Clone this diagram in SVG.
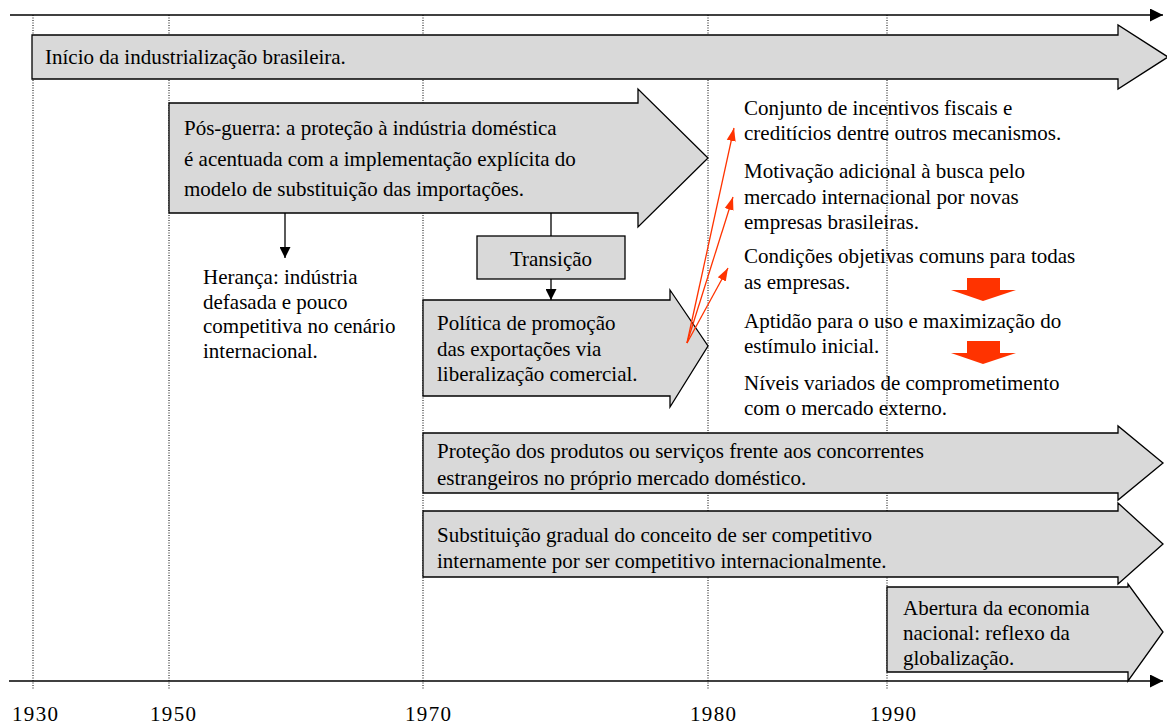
<svg xmlns="http://www.w3.org/2000/svg" width="1167" height="725" viewBox="0 0 1167 725">
<style>
text{font-family:"Liberation Serif","Times New Roman",serif;font-size:21px;fill:#000}
.blk{fill:#d9d9d9;stroke:#000;stroke-width:1.3}
.grid{stroke:#000;stroke-width:1;stroke-dasharray:1,1.5;fill:none}
.axis{stroke:#000;stroke-width:1.5;fill:none}
.con{stroke:#000;stroke-width:1.3;fill:none}
.red{stroke:#ff3300;stroke-width:1.3;fill:none}
.redfill{fill:#ff3300}
</style>
<defs>
<marker id="ah" viewBox="0 0 10 10" refX="10" refY="5" markerWidth="11" markerHeight="11" markerUnits="userSpaceOnUse" orient="auto"><path d="M0,0L10,5L0,10z" fill="#000"/></marker>
<marker id="axh" viewBox="0 0 10 10" refX="10" refY="5" markerWidth="13" markerHeight="13" markerUnits="userSpaceOnUse" orient="auto"><path d="M0,0L10,5L0,10z" fill="#000"/></marker>
<marker id="rh" viewBox="0 0 10 10" refX="10" refY="5" markerWidth="13" markerHeight="13" markerUnits="userSpaceOnUse" orient="auto"><path d="M0,1.5L10,5L0,8.5z" fill="#ff3300"/></marker>
</defs>
<g id="grid">
<line class="grid" x1="33" y1="15" x2="33" y2="690"/>
<line class="grid" x1="169" y1="15" x2="169" y2="690"/>
<line class="grid" x1="423" y1="15" x2="423" y2="690"/>
<line class="grid" x1="708" y1="15" x2="708" y2="690"/>
<line class="grid" x1="887" y1="15" x2="887" y2="690"/>
</g>
<g id="axes">
<line class="axis" x1="10" y1="15" x2="1163" y2="15" marker-end="url(#axh)"/>
<line class="axis" x1="9" y1="681" x2="1163" y2="681" marker-end="url(#axh)"/>
</g>
<g id="years">
<text x="12" y="721" textLength="46">1930</text>
<text x="150" y="721" textLength="46">1950</text>
<text x="405" y="721" textLength="46">1970</text>
<text x="690" y="721" textLength="46">1980</text>
<text x="870" y="721" textLength="46">1990</text>
</g>
<g id="inicio">
<polygon class="blk" points="32,35 1118,35 1118,25 1168,57 1118,89 1118,79 32,79"/>
<text x="45" y="64">Início da industrialização brasileira.</text>
</g>
<g id="posguerra">
<polygon class="blk" points="169,103 638,103 638,89 708,158 638,227 638,213 169,213"/>
<text x="184" y="135">Pós-guerra: a proteção à indústria doméstica</text>
<text x="184" y="166">é acentuada com a implementação explícita do</text>
<text x="184" y="196">modelo de substituição das importações.</text>
</g>
<g id="heranca">
<text x="203" y="284">Herança: indústria</text>
<text x="203" y="309">defasada e pouco</text>
<text x="203" y="333">competitiva no cenário</text>
<text x="203" y="358">internacional.</text>
</g>
<g id="transicao">
<rect class="blk" x="477" y="236" width="148" height="43"/>
<text x="551" y="266" text-anchor="middle">Transição</text>
</g>
<g id="politica">
<polygon class="blk" points="423,300 670,300 670,290 708,346 670,407 670,396 423,396"/>
<text x="437" y="330">Política de promoção</text>
<text x="437" y="356">das exportações via</text>
<text x="437" y="381">liberalização comercial.</text>
</g>
<g id="textos">
<text x="744" y="115">Conjunto de incentivos fiscais e</text>
<text x="744" y="140">creditícios dentre outros mecanismos.</text>
<text x="744" y="178">Motivação adicional à busca pelo</text>
<text x="744" y="204">mercado internacional por novas</text>
<text x="744" y="229">empresas brasileiras.</text>
<text x="744" y="263">Condições objetivas comuns para todas</text>
<text x="744" y="289">as empresas.</text>
<text x="744" y="328">Aptidão para o uso e maximização do</text>
<text x="744" y="353">estímulo inicial.</text>
<text x="744" y="390">Níveis variados de comprometimento</text>
<text x="744" y="415">com o mercado externo.</text>
</g>
<g id="setas-vermelhas">
<polygon class="redfill" points="967,278 1000,278 1000,290 1016,290 983,301 951,290 967,290"/>
<polygon class="redfill" points="967,341 1000,341 1000,353 1016,353 983,364 951,353 967,353"/>
</g>
<g id="protecao">
<polygon class="blk" points="423,433 1118,433 1118,426 1163,463 1118,500 1118,493 423,493"/>
<text x="437" y="458">Proteção dos produtos ou serviços frente aos concorrentes</text>
<text x="437" y="485">estrangeiros no próprio mercado doméstico.</text>
</g>
<g id="substituicao">
<polygon class="blk" points="423,511 1118,511 1118,503 1163,544 1118,584 1118,577 423,577"/>
<text x="437" y="542">Substituição gradual do conceito de ser competitivo</text>
<text x="437" y="568">internamente por ser competitivo internacionalmente.</text>
</g>
<g id="abertura">
<polygon class="blk" points="887,587 1128,587 1128,584 1163,632 1128,681 1128,672 887,672"/>
<text x="903" y="615">Abertura da economia</text>
<text x="903" y="640">nacional: reflexo da</text>
<text x="903" y="665">globalização.</text>
</g>
<g id="connectors">
<line class="con" x1="285" y1="213" x2="285" y2="258" marker-end="url(#ah)"/>
<line class="con" x1="551" y1="213" x2="551" y2="236"/>
<line class="con" x1="551" y1="279" x2="551" y2="300" marker-end="url(#ah)"/>
<line class="red" x1="687" y1="343" x2="734" y2="128" marker-end="url(#rh)"/>
<line class="red" x1="687" y1="343" x2="733" y2="197" marker-end="url(#rh)"/>
<line class="red" x1="687" y1="343" x2="728" y2="268" marker-end="url(#rh)"/>
</g>
</svg>
